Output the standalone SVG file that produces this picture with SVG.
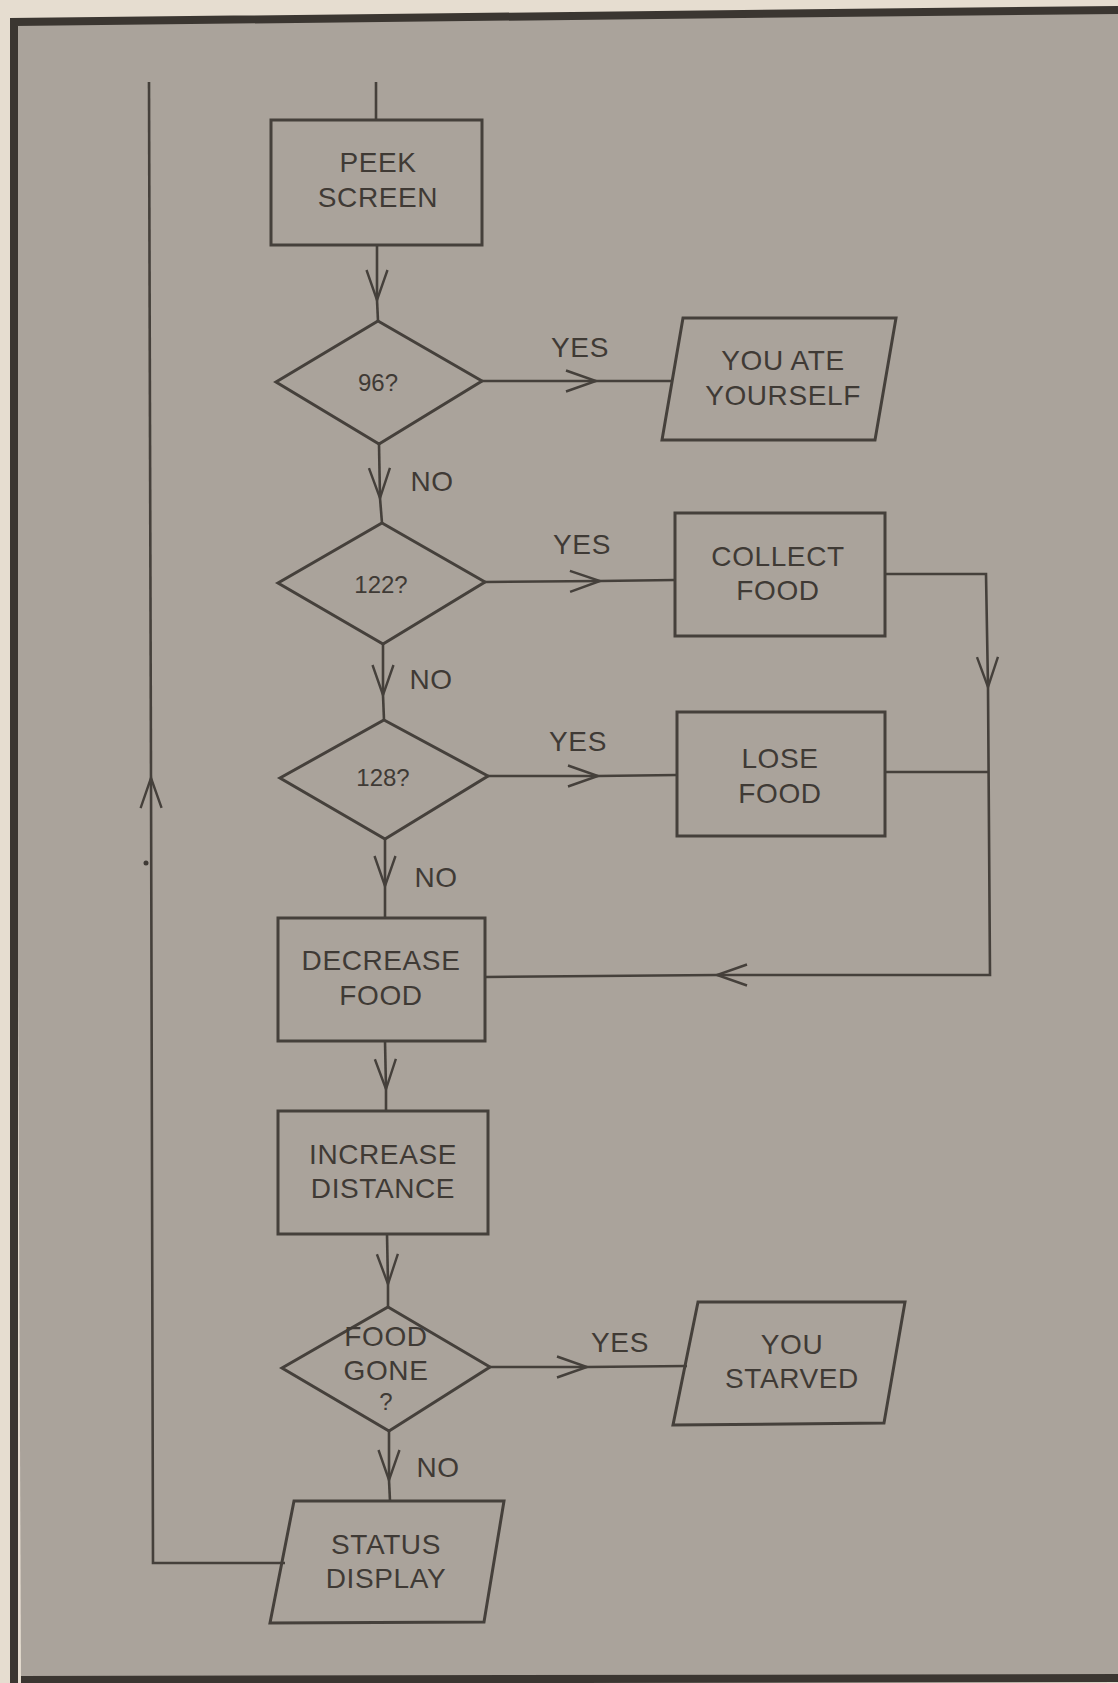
<svg xmlns="http://www.w3.org/2000/svg" width="1118" height="1683" viewBox="0 0 1118 1683">
<style>
.bg{fill:#aaa39b}
.frame{fill:none;stroke:#3b3631;stroke-width:8}
.node{fill:none;stroke:#45403b;stroke-width:3}
.conn{fill:none;stroke:#45403b;stroke-width:2.6}
.t{font-family:"Liberation Sans",Arial,sans-serif;font-size:28px;fill:#3f3a35;text-anchor:middle;letter-spacing:0.6px}
.q{font-size:24px;letter-spacing:0}
</style>
<defs>
<marker id="v" markerUnits="userSpaceOnUse" markerWidth="40" markerHeight="30" viewBox="0 0 40 30" refX="32" refY="15" orient="auto" overflow="visible">
<path d="M2,4.5 L32,15 L2,25.5" fill="none" stroke="#45403b" stroke-width="2.4"/>
</marker>
</defs>
<rect x="0" y="0" width="1118" height="1683" fill="#e6ddd0"/>
<polygon class="bg" points="14,22 1118,10 1118,1678 21,1680"/>
<path class="frame" d="M14,1683 L14,22 L1118,10"/>
<path class="frame" d="M21,1680 L1118,1678" stroke-width="6"/>

<g id="connectors">
<path class="conn" d="M376,82 L376,119"/>
<path class="conn" d="M377,245 L377,300" marker-end="url(#v)"/><path class="conn" d="M377,300 L378,321"/>
<path class="conn" d="M482,381 L596,381" marker-end="url(#v)"/><path class="conn" d="M596,381 L672,381"/>
<path class="conn" d="M379,444 L380,498" marker-end="url(#v)"/><path class="conn" d="M380,498 L382,523"/>
<path class="conn" d="M485,582 L600,581" marker-end="url(#v)"/><path class="conn" d="M600,581 L675,580"/>
<path class="conn" d="M383,644 L383,695" marker-end="url(#v)"/><path class="conn" d="M383,695 L384,720"/>
<path class="conn" d="M488,776 L598,776" marker-end="url(#v)"/><path class="conn" d="M598,776 L677,775"/>
<path class="conn" d="M385,839 L385,886" marker-end="url(#v)"/><path class="conn" d="M385,886 L385,918"/>
<path class="conn" d="M885,574 L986,574 L988,687" marker-end="url(#v)"/><path class="conn" d="M988,687 L990,975 L717,975" marker-end="url(#v)"/><path class="conn" d="M717,975 L485,977"/>
<path class="conn" d="M885,772 L989,772"/>
<path class="conn" d="M385,1041 L386,1089" marker-end="url(#v)"/><path class="conn" d="M386,1089 L386,1111"/>
<path class="conn" d="M387,1234 L388,1284" marker-end="url(#v)"/><path class="conn" d="M388,1284 L388,1307"/>
<path class="conn" d="M490,1367 L587,1367" marker-end="url(#v)"/><path class="conn" d="M587,1367 L687,1366"/>
<path class="conn" d="M389,1431 L389,1480" marker-end="url(#v)"/><path class="conn" d="M389,1480 L390,1501"/>
<path class="conn" d="M285,1563 L153,1563 L151,778" marker-end="url(#v)"/><path class="conn" d="M151,778 L149,82"/>
<circle cx="146" cy="863" r="2.5" fill="#3f3a35"/>
</g>

<g id="peek">
<rect class="node" x="271" y="120" width="211" height="125"/>
<text class="t" x="378" y="172">PEEK</text>
<text class="t" x="378" y="207">SCREEN</text>
</g>
<g id="d96">
<polygon class="node" points="378,321 482,381 379,444 276,382"/>
<text class="t q" x="378" y="391">96?</text>
</g>
<g id="ate">
<polygon class="node" points="683,318 896,318 875,440 662,440"/>
<text class="t" x="783" y="370">YOU ATE</text>
<text class="t" x="783" y="405">YOURSELF</text>
</g>
<g id="d122">
<polygon class="node" points="382,523 485,582 383,644 278,583"/>
<text class="t q" x="381" y="593">122?</text>
</g>
<g id="collect">
<rect class="node" x="675" y="513" width="210" height="123"/>
<text class="t" x="778" y="566">COLLECT</text>
<text class="t" x="778" y="600">FOOD</text>
</g>
<g id="d128">
<polygon class="node" points="384,720 488,776 385,839 280,778"/>
<text class="t q" x="383" y="786">128?</text>
</g>
<g id="lose">
<rect class="node" x="677" y="712" width="208" height="124"/>
<text class="t" x="780" y="768">LOSE</text>
<text class="t" x="780" y="803">FOOD</text>
</g>
<g id="decrease">
<rect class="node" x="278" y="918" width="207" height="123"/>
<text class="t" x="381" y="970">DECREASE</text>
<text class="t" x="381" y="1005">FOOD</text>
</g>
<g id="increase">
<rect class="node" x="278" y="1111" width="210" height="123"/>
<text class="t" x="383" y="1164">INCREASE</text>
<text class="t" x="383" y="1198">DISTANCE</text>
</g>
<g id="foodgone">
<polygon class="node" points="388,1307 490,1367 389,1431 282,1368"/>
<text class="t" x="386" y="1346">FOOD</text>
<text class="t" x="386" y="1380">GONE</text>
<text class="t q" x="386" y="1410">?</text>
</g>
<g id="starved">
<polygon class="node" points="698,1302 905,1302 884,1423 673,1425"/>
<text class="t" x="792" y="1354">YOU</text>
<text class="t" x="792" y="1388">STARVED</text>
</g>
<g id="status">
<polygon class="node" points="294,1501 504,1501 484,1622 270,1623"/>
<text class="t" x="386" y="1554">STATUS</text>
<text class="t" x="386" y="1588">DISPLAY</text>
</g>
<g id="labels">
<text class="t" x="580" y="357">YES</text>
<text class="t" x="432" y="491">NO</text>
<text class="t" x="582" y="554">YES</text>
<text class="t" x="431" y="689">NO</text>
<text class="t" x="578" y="751">YES</text>
<text class="t" x="436" y="887">NO</text>
<text class="t" x="620" y="1352">YES</text>
<text class="t" x="438" y="1477">NO</text>
</g>
</svg>
